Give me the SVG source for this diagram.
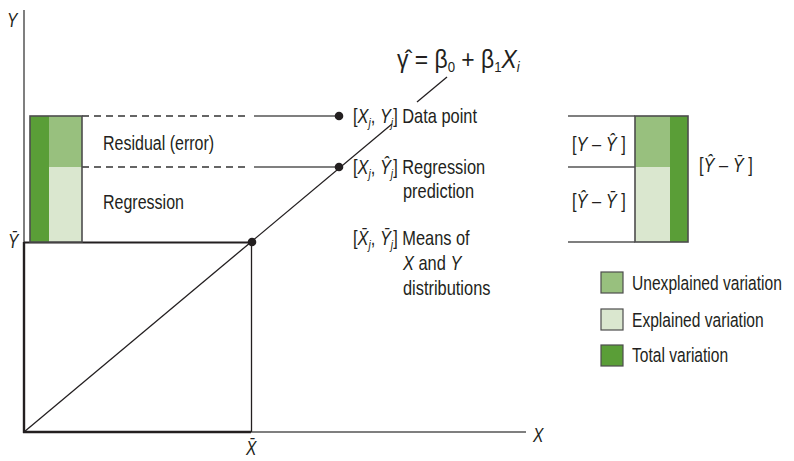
<svg xmlns="http://www.w3.org/2000/svg" width="794" height="461" viewBox="0 0 794 461">
<style>
text{font-family:"Liberation Sans",Arial,sans-serif;font-size:19.5px;fill:#231f20}
.lbl{font-size:20.5px}
.it{font-style:italic}
.sub{font-size:13px;font-style:italic}
.num{font-size:15px;font-style:normal}
.dark{fill:#5a9e37}
.mid{fill:#98c07e}
.light{fill:#dae7cf}
.box{fill:none;stroke:#4d4d4d;stroke-width:1.6}
.thin{stroke:#231f20;stroke-width:1.3;fill:none}
.gray{stroke:#555;stroke-width:1.5;fill:none}
.thick{stroke:#231f20;stroke-width:2.4;fill:none}
.dash{stroke:#333;stroke-width:1.3;stroke-dasharray:7,5;fill:none}
.dot{fill:#231f20}
</style>
<g id="connectors">
<line class="gray" x1="24" y1="10" x2="24" y2="242"/>
<line class="thick" x1="24" y1="242" x2="24" y2="433"/>
<line class="thick" x1="23" y1="432" x2="251" y2="432"/>
<line class="gray" x1="251" y1="432" x2="526" y2="432"/>
<line class="thin" x1="24" y1="242.5" x2="251" y2="242.5" style="stroke-width:1.8"/>
<line class="thin" x1="251.5" y1="242" x2="251.5" y2="432"/>
<line class="thin" x1="24" y1="432" x2="392" y2="124"/>
<line class="thin" x1="417" y1="102" x2="447" y2="77"/>
<line class="dash" x1="82" y1="116" x2="250" y2="116"/>
<line class="gray" x1="254" y1="116" x2="339" y2="116"/>
<line class="dash" x1="82" y1="167" x2="250" y2="167"/>
<line class="gray" x1="254" y1="167" x2="339" y2="167"/>
<line class="gray" x1="568" y1="116" x2="635" y2="116"/>
<line class="gray" x1="568" y1="167" x2="635" y2="167"/>
<line class="gray" x1="568" y1="242" x2="635" y2="242"/>
</g>
<g id="left-bar">
<rect class="dark" x="30" y="116" width="19" height="126"/>
<rect class="mid" x="49" y="116" width="33" height="51"/>
<rect class="light" x="49" y="167" width="33" height="75"/>
<rect class="box" x="30" y="116" width="52" height="126"/>
</g>
<g id="right-bar">
<rect class="mid" x="635" y="116" width="35" height="51"/>
<rect class="light" x="635" y="167" width="35" height="75"/>
<rect class="dark" x="670" y="116" width="18" height="126"/>
<rect class="box" x="635" y="116" width="53" height="126"/>
</g>
<g id="points">
<circle class="dot" cx="339" cy="116" r="4.3"/>
<circle class="dot" cx="339" cy="167" r="4.3"/>
<circle class="dot" cx="252" cy="242" r="4.3"/>
</g>
<g id="axis-labels">
<g transform="translate(7 27) scale(0.8 1)"><text class="it">Y</text></g>
<g transform="translate(8 248) scale(0.8 1)"><text class="it">Ȳ</text></g>
<g transform="translate(246 455) scale(0.8 1)"><text class="it">X̄</text></g>
<g transform="translate(533 442) scale(0.8 1)"><text class="it">X</text></g>
</g>
<g id="bar-labels">
<g transform="translate(103 150) scale(0.8 1)"><text style="font-size:20px">Residual (error)</text></g>
<g transform="translate(103 209) scale(0.8 1)"><text style="font-size:20px">Regression</text></g>
</g>
<g id="equation">
<g transform="translate(397 68) scale(0.88 1)"><text style="font-size:26px">γ̂ = β<tspan class="num" dy="4">0</tspan><tspan dy="-4"> + β</tspan><tspan class="num" dy="4">1</tspan><tspan class="it" dy="-4">X</tspan><tspan class="sub" style="font-size:15px" dy="4">i</tspan></text></g>
</g>
<g id="data-point">
<g transform="translate(353 123) scale(0.8 1)"><text class="lbl">[<tspan class="it">X</tspan><tspan class="sub" dy="4">j</tspan><tspan dy="-4">, </tspan><tspan class="it">Y</tspan><tspan class="sub" dy="4">j</tspan><tspan dy="-4">] Data point</tspan></text></g>
</g>
<g id="regression-prediction">
<g transform="translate(353 174) scale(0.8 1)"><text class="lbl">[<tspan class="it">X</tspan><tspan class="sub" dy="4">j</tspan><tspan dy="-4">, </tspan><tspan class="it">Ŷ</tspan><tspan class="sub" dy="4">j</tspan><tspan dy="-4">] Regression</tspan></text></g>
<g transform="translate(403 198) scale(0.8 1)"><text class="lbl">prediction</text></g>
</g>
<g id="means">
<g transform="translate(353 245) scale(0.8 1)"><text class="lbl">[<tspan class="it">X̄</tspan><tspan class="sub" dy="4">j</tspan><tspan dy="-4">, </tspan><tspan class="it">Ȳ</tspan><tspan class="sub" dy="4">j</tspan><tspan dy="-4">] Means of</tspan></text></g>
<g transform="translate(403 270) scale(0.8 1)"><text class="lbl"><tspan class="it">X</tspan> and <tspan class="it">Y</tspan></text></g>
<g transform="translate(403 295) scale(0.8 1)"><text class="lbl">distributions</text></g>
</g>
<g id="right-labels">
<g transform="translate(572 151) scale(0.8 1)"><text class="lbl">[<tspan class="it">Y</tspan> – <tspan class="it">Ŷ</tspan> ]</text></g>
<g transform="translate(572 208) scale(0.8 1)"><text class="lbl">[<tspan class="it">Ŷ</tspan> – <tspan class="it">Ȳ</tspan> ]</text></g>
<g transform="translate(699 172) scale(0.8 1)"><text class="lbl">[<tspan class="it">Ŷ</tspan> – <tspan class="it">Ȳ</tspan> ]</text></g>
</g>
<g id="legend">
<g id="legend-unexplained">
<rect class="mid" x="601" y="272" width="22" height="21"/>
<rect class="box" x="601" y="272" width="22" height="21" style="stroke-width:1.2"/>
<g transform="translate(632 290) scale(0.8 1)"><text>Unexplained variation</text></g>
</g>
<g id="legend-explained">
<rect class="light" x="601" y="309" width="22" height="21"/>
<rect class="box" x="601" y="309" width="22" height="21" style="stroke-width:1.2"/>
<g transform="translate(632 327) scale(0.8 1)"><text>Explained variation</text></g>
</g>
<g id="legend-total">
<rect class="dark" x="601" y="345" width="22" height="21"/>
<rect class="box" x="601" y="345" width="22" height="21" style="stroke-width:1.2"/>
<g transform="translate(632 362) scale(0.8 1)"><text>Total variation</text></g>
</g>
</g>
</svg>
